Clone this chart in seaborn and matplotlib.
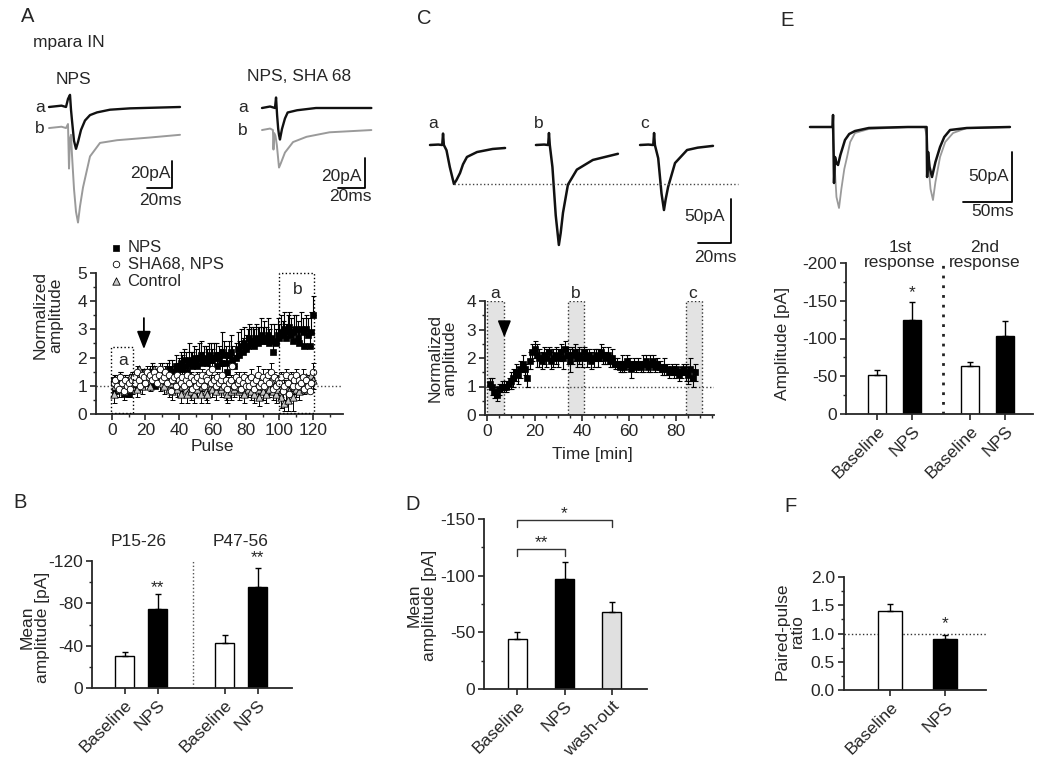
import numpy as np
import matplotlib
matplotlib.use("Agg")
import matplotlib.pyplot as plt
import seaborn as sns
from matplotlib.patches import Rectangle
from matplotlib.ticker import MultipleLocator, FormatStrFormatter

sns.set_style("ticks")
plt.rcParams["font.family"] = ["Liberation Sans", "DejaVu Sans"]
plt.rcParams["font.size"] = 12.5
plt.rcParams["axes.unicode_minus"] = False

FS = 12.5

# ---------------- dati ----------------

# A - tracce (ms, pA)
a_nps_t_a = [0, 10, 13.6, 15.2, 16.8, 17.6, 18.4, 20, 21.6, 23.2, 25.6, 28.8, 32.8, 38.4, 48.8, 64.8, 104.8]
a_nps_v_a = [0, 1, 0, 6, 9, -2, -10, -25, -31, -26, -17, -10, -6, -4, -2, -1, 0]
a_nps_t_b = [0, 10, 13.6, 15.2, 16, 16.8, 17.6, 18.4, 20, 21.6, 23.2, 24.8, 27.2, 32.8, 40.8, 54.4, 80.8, 104.8]
a_nps_v_b = [0, 1, 0, 3, -30, -8, -5, -20, -45, -62, -70, -58, -44, -21, -11, -9, -7, -5]

a_sha_t_a = [0, 6, 9.6, 10.4, 11.2, 12, 12.6, 13.3, 14.8, 17, 19, 26, 40, 81]
a_sha_v_a = [0, 1, 0, 7, -5, -14, -18, -21, -14, -7, -3, -1.5, 0, 0]
a_sha_t_b = [0, 6, 8.1, 8.5, 9, 10, 11, 12.6, 14, 17, 23, 33, 50, 81]
a_sha_v_b = [0, 1, 0, -13, -2, -4, -10, -25, -22, -15, -8, -4.5, -1.5, 0]

# A - ampiezza normalizzata per impulso (1..120)
pulse = np.arange(1, 121)
nps_amp = [1.2, 0.8, 1.1, 1.0, 1.2, 0.9, 0.7, 1.1, 1.0, 0.7, 1.1, 1.3, 1.0, 1.2, 0.9, 1.1, 1.2, 1.0, 1.3, 1.4,
           1.2, 1.1, 1.3, 1.5, 1.2, 1.0, 1.3, 1.4, 1.2, 1.5, 1.3, 1.2, 1.4, 1.6, 1.3, 1.5, 1.4, 1.7, 1.5, 1.6,
           1.8, 1.6, 1.9, 1.7, 1.5, 1.9, 1.8, 1.7, 2.0, 1.8, 1.7, 2.0, 2.1, 1.8, 1.9, 2.0, 1.8, 2.1, 2.0, 1.9,
           2.0, 2.1, 1.7, 2.0, 1.8, 2.2, 2.1, 1.8, 1.5, 2.1, 2.2, 1.9, 1.7, 2.0, 2.3, 2.1, 2.4, 2.2, 2.5, 2.3,
           2.4, 2.7, 2.5, 2.6, 2.4, 2.7, 2.5, 2.6, 2.8, 2.6, 2.7, 2.6, 2.8, 2.5, 2.7, 2.2, 2.6, 2.5, 2.8, 2.7,
           2.9, 2.8, 3.0, 2.7, 2.9, 3.1, 2.8, 2.6, 2.9, 3.0, 2.7, 2.5, 3.0, 2.9, 2.4, 3.0, 2.8, 2.4, 2.9, 3.5]
nps_err = [0.2, 0.3, 0.2, 0.2, 0.3, 0.2, 0.2, 0.3, 0.2, 0.2, 0.3, 0.2, 0.3, 0.2, 0.3, 0.2, 0.3, 0.2, 0.3, 0.2,
           0.3, 0.2, 0.3, 0.3, 0.2, 0.3, 0.3, 0.2, 0.3, 0.3, 0.3, 0.3, 0.4, 0.3, 0.3, 0.4, 0.3, 0.4, 0.3, 0.4,
           0.4, 0.5, 0.4, 0.5, 0.4, 0.6, 0.4, 0.5, 0.4, 0.5, 0.4, 0.5, 0.5, 0.4, 0.5, 0.4, 0.5, 0.4, 0.5, 0.4,
           0.5, 0.4, 0.5, 0.4, 0.5, 0.7, 0.5, 0.6, 0.5, 0.5, 0.6, 0.5, 0.4, 0.5, 0.6, 0.5, 0.6, 0.5, 0.6, 0.5,
           0.6, 0.5, 0.6, 0.5, 0.6, 0.5, 0.6, 0.5, 0.6, 0.5, 0.6, 0.5, 0.6, 0.5, 0.5, 0.3, 0.6, 0.5, 0.6, 0.5,
           0.6, 0.5, 0.6, 0.5, 0.6, 0.5, 0.6, 0.5, 0.6, 0.5, 0.6, 0.5, 0.6, 0.5, 0.6, 0.5, 0.6, 0.5, 0.7, 0.7]
sha_amp = [1.1, 1.2, 1.0, 0.9, 1.3, 1.1, 0.8, 1.2, 1.0, 1.1, 0.9, 1.2, 1.3, 1.1, 1.5, 1.2, 1.0, 1.4, 1.3, 1.1,
           1.5, 1.3, 1.4, 1.2, 1.5, 1.3, 1.1, 1.4, 1.6, 1.2, 1.3, 1.5, 1.1, 1.4, 0.8, 1.2, 1.3, 1.0, 1.4, 1.2,
           1.1, 1.3, 1.0, 1.2, 1.4, 1.1, 1.3, 0.9, 1.2, 1.0, 1.3, 1.1, 1.2, 1.4, 1.0, 1.3, 1.2, 1.5, 1.1, 1.6,
           1.2, 1.0, 1.3, 1.1, 1.2, 1.4, 1.0, 1.2, 0.9, 1.1, 1.2, 1.7, 1.0, 1.3, 1.1, 1.2, 0.9, 1.1, 1.3, 1.0,
           1.2, 1.0, 1.3, 1.1, 0.9, 1.2, 1.4, 1.0, 1.1, 1.3, 1.0, 1.2, 1.4, 1.1, 1.5, 0.9, 1.3, 1.0, 1.2, 1.1,
           1.3, 0.8, 1.0, 1.4, 1.1, 0.7, 1.3, 1.0, 1.2, 1.4, 1.0, 1.2, 1.1, 1.3, 0.9, 1.2, 1.0, 0.8, 1.1, 1.5]
sha_err = [0.2, 0.2, 0.3, 0.2, 0.2, 0.3, 0.2, 0.2, 0.3, 0.2, 0.2, 0.3, 0.2, 0.2, 0.2, 0.3, 0.2, 0.2, 0.2, 0.3,
           0.2, 0.2, 0.3, 0.2, 0.2, 0.2, 0.3, 0.2, 0.2, 0.2, 0.3, 0.2, 0.2, 0.3, 0.2, 0.2, 0.2, 0.3, 0.2, 0.2,
           0.3, 0.2, 0.2, 0.2, 0.3, 0.2, 0.2, 0.3, 0.2, 0.2, 0.2, 0.3, 0.2, 0.2, 0.3, 0.2, 0.2, 0.2, 0.3, 0.2,
           0.2, 0.3, 0.2, 0.2, 0.2, 0.3, 0.2, 0.2, 0.3, 0.2, 0.2, 0.2, 0.3, 0.2, 0.2, 0.3, 0.2, 0.2, 0.2, 0.3,
           0.2, 0.2, 0.3, 0.2, 0.2, 0.2, 0.3, 0.2, 0.2, 0.3, 0.2, 0.2, 0.2, 0.3, 0.3, 0.2, 0.2, 0.3, 0.2, 0.3,
           0.2, 0.3, 0.2, 0.2, 0.3, 0.3, 0.2, 0.3, 0.2, 0.2, 0.3, 0.2, 0.2, 0.3, 0.2, 0.2, 0.3, 0.2, 0.2, 0.3]
ctrl_amp = [0.7, 1.0, 1.2, 0.9, 1.1, 1.0, 0.8, 1.2, 1.1, 0.9, 1.3, 1.0, 1.1, 1.4, 0.9, 1.6, 1.2, 1.0, 1.5, 1.3,
            1.2, 1.5, 1.0, 1.4, 1.6, 1.3, 1.2, 1.5, 1.1, 1.4, 1.0, 1.3, 1.2, 0.9, 1.1, 0.8, 1.2, 1.0, 0.9, 1.1,
            0.7, 1.0, 1.2, 0.9, 0.7, 1.1, 0.8, 1.0, 0.7, 1.2, 0.9, 1.1, 0.7, 1.0, 1.2, 0.8, 0.7, 1.1, 1.0, 0.9,
            1.1, 0.8, 1.0, 1.2, 0.9, 1.0, 1.3, 0.8, 0.7, 1.0, 0.8, 1.1, 0.9, 1.0, 1.2, 0.8, 0.9, 1.1, 0.7, 1.0,
            0.9, 1.2, 0.8, 1.0, 0.7, 1.1, 0.9, 0.6, 1.0, 0.8, 1.1, 0.7, 1.0, 0.9, 1.2, 0.8, 1.0, 0.7, 0.9, 1.1,
            0.6, 0.9, 0.4, 1.0, 0.5, 0.8, 1.1, 0.6, 1.0, 0.9, 1.2, 0.8, 1.0, 1.1, 0.9, 1.3, 1.0, 1.2, 1.4, 1.2]
ctrl_err = [0.3, 0.2, 0.2, 0.3, 0.2, 0.2, 0.3, 0.2, 0.2, 0.3, 0.2, 0.3, 0.2, 0.2, 0.3, 0.2, 0.2, 0.3, 0.2, 0.2,
            0.2, 0.3, 0.2, 0.2, 0.2, 0.3, 0.2, 0.2, 0.3, 0.2, 0.3, 0.2, 0.2, 0.3, 0.2, 0.3, 0.2, 0.2, 0.3, 0.2,
            0.3, 0.2, 0.2, 0.3, 0.3, 0.2, 0.3, 0.2, 0.3, 0.2, 0.3, 0.2, 0.3, 0.2, 0.2, 0.3, 0.3, 0.2, 0.2, 0.3,
            0.2, 0.3, 0.2, 0.2, 0.3, 0.2, 0.2, 0.3, 0.3, 0.2, 0.3, 0.2, 0.3, 0.2, 0.2, 0.3, 0.3, 0.2, 0.3, 0.2,
            0.3, 0.2, 0.3, 0.2, 0.3, 0.2, 0.3, 0.3, 0.2, 0.3, 0.2, 0.3, 0.2, 0.3, 0.2, 0.3, 0.2, 0.3, 0.3, 0.2,
            0.4, 0.4, 0.3, 0.5, 0.4, 0.4, 0.3, 0.5, 0.3, 0.3, 0.2, 0.3, 0.2, 0.3, 0.2, 0.3, 0.2, 0.3, 0.2, 0.3]

# B
b_labels = ["Baseline", "NPS", "Baseline", "NPS"]
b_pos = [0, 1, 3.05, 4.05]
b_vals = [-30.4, -74.3, -42.6, -95.6]
b_err = [3.4, 14.1, 7.4, 18.1]
b_colors = ["white", "black", "white", "black"]

# C - tracce a, b, c
c_t_a = [0, 5, 7.4, 7.9, 8.4, 10, 12, 14.5, 16, 18.2, 20, 22.4, 28.5, 38, 45.5]
c_v_a = [0, 0.5, 0, 13, 0, -6, -25, -44.3, -40, -31.8, -22, -13.6, -8, -4.5, -3.4]
c_t_b = [0, 5, 7.4, 7.9, 8.4, 10, 12, 13.9, 15, 16.4, 19.4, 24.8, 34.5, 49.7]
c_v_b = [0, 0.5, 0, 13.6, 0, -25, -80, -113.6, -100, -77, -45, -28, -17, -10]
c_t_c = [0, 5, 8, 8.5, 9, 11, 13, 14.5, 15.5, 17, 21.2, 28.5, 35, 44.2]
c_v_c = [0, 0.5, 0, 13.6, 0, -15, -55, -73.9, -62, -47.7, -20.5, -5.7, -3, -1]

# C - andamento nel tempo (min 1..88)
c_time = np.arange(1, 89)
c_amp = [1.1, 1.0, 0.8, 0.7, 0.9, 1.0, 1.0, 1.0, 1.1, 1.2, 1.3, 1.5, 1.4, 1.6, 1.8, 1.6, 1.3, 1.9,
         2.2, 2.3, 2.1, 2.0, 1.9, 2.1, 2.0, 2.2, 1.9, 2.0, 2.1, 2.0, 2.2, 2.0, 2.3, 2.1, 1.9, 2.1,
         2.2, 2.0, 2.1, 2.0, 2.2, 2.0, 2.1, 1.9, 2.0, 2.1, 2.0, 2.2, 2.1, 2.0, 2.1, 1.9, 2.0, 1.8,
         1.8, 1.7, 1.8, 1.7, 1.9, 1.8, 1.6, 1.8, 1.7, 1.8, 1.7, 1.8, 1.9, 1.7, 1.8, 1.9, 1.7, 1.8,
         1.7, 1.6, 1.7, 1.6, 1.5, 1.6, 1.5, 1.6, 1.4, 1.5, 1.6, 1.5, 1.4, 1.6, 1.3, 1.5]
c_err = [0.2, 0.3, 0.2, 0.2, 0.2, 0.2, 0.2, 0.2, 0.2, 0.3, 0.3, 0.3, 0.3, 0.3, 0.3, 0.2, 0.3, 0.3,
         0.3, 0.3, 0.4, 0.3, 0.3, 0.3, 0.3, 0.2, 0.3, 0.3, 0.3, 0.3, 0.3, 0.4, 0.3, 0.3, 0.4, 0.3,
         0.3, 0.3, 0.3, 0.3, 0.2, 0.3, 0.2, 0.3, 0.3, 0.2, 0.3, 0.3, 0.3, 0.2, 0.3, 0.2, 0.3, 0.2,
         0.2, 0.2, 0.3, 0.2, 0.2, 0.2, 0.3, 0.2, 0.2, 0.2, 0.2, 0.3, 0.2, 0.2, 0.3, 0.2, 0.2, 0.2,
         0.2, 0.2, 0.3, 0.2, 0.2, 0.2, 0.2, 0.2, 0.2, 0.2, 0.2, 0.3, 0.3, 0.4, 0.3, 0.3]

# D
d_labels = ["Baseline", "NPS", "wash-out"]
d_vals = [-43.8, -97.0, -67.6]
d_err = [6.2, 14.8, 8.9]
d_colors = ["white", "black", "#e0e0e0"]

# E - tracce (nero e grigio)
e_t_k = [0, 20, 23, 23.5, 24.5, 25.5, 27, 28.6, 31, 35.7, 40, 45.9, 60, 100, 117, 119, 119.5, 120.5, 122,
         124.5, 128, 132.7, 137, 142.9, 160, 204]
e_v_k = [0, 0, 0, 12, -56, -30, -36, -38, -28, -13, -7, -4, -1, 0, 0, 0, -50, -25, -40, -50, -35, -20,
         -10, -3, -1, 0]
e_t_g = [0, 20, 23, 24, 25.5, 27, 29.6, 32, 35, 37.8, 41, 45.9, 60, 100, 117, 119.5, 121, 123, 125.5, 128,
         132.7, 138, 146, 160, 204]
e_v_g = [0, 0, 0, -20, -45, -70, -81, -62, -42, -30, -15, -6, -2, 0, 0, -10, -40, -62, -73, -55, -30,
         -15, -6, -1, 0]

# E - barre
e_labels = ["Baseline", "NPS", "Baseline", "NPS"]
e_pos = [0, 1, 2.66, 3.66]
e_vals = [-52, -124, -63, -103]
e_err = [6.7, 25, 6, 20.6]
e_colors = ["white", "black", "white", "black"]

# F
f_labels = ["Baseline", "NPS"]
f_vals = [1.39, 0.90]
f_err = [0.13, 0.076]
f_colors = ["white", "black"]

# ---------------- figura ----------------
W, H = 1050, 767
fig = plt.figure(figsize=(10.5, 7.67), dpi=100)
K = "#111111"
G = "#9a9a9a"


def box(l, t, r, b):
    return fig.add_axes([l / W, 1 - b / H, (r - l) / W, (b - t) / H])


def trace_axes(l, t, r, b, x0, y0, px_ms, px_pa):
    ax = box(l, t, r, b)
    ax.set_xlim((l - x0) / px_ms, (r - x0) / px_ms)
    ax.set_ylim(-(b - y0) / px_pa, (y0 - t) / px_pa)
    ax.set_axis_off()
    return ax


def trace(ax, t, v, color, lw=1.5, dt=0, dy=0):
    sns.lineplot(x=np.asarray(t) + dt, y=np.asarray(v) + dy, ax=ax, color=color, lw=lw,
                 errorbar=None, legend=False)


def scalebar(ax, x1, y0, dx, dy, ylab, xlab, ylab_x, xlab_x, ylab_y, xlab_y):
    ax.plot([x1 - dx, x1, x1], [y0, y0, y0 + dy], color="k", lw=1.3)
    ax.text(ylab_x, ylab_y, ylab, ha="right", va="center", fontsize=FS)
    ax.text(xlab_x, xlab_y, xlab, ha="center", va="center", fontsize=FS)


def style(ax):
    sns.despine(ax=ax)
    for s in ["left", "bottom"]:
        ax.spines[s].set_linewidth(1.3)
    ax.tick_params(direction="out", length=4.5, width=1.2, labelsize=FS, pad=2)
    ax.tick_params(which="minor", length=2.5, width=1)


def bars(ax, pos, vals, err, colors, width, labels):
    sns.barplot(x=pos, y=vals, native_scale=True, width=width, color="white",
                edgecolor="black", linewidth=1, errorbar=None, ax=ax)
    for p, c in zip(ax.patches, colors):
        p.set_facecolor(c)
    up = [0] * len(err)
    if vals[0] < 0:
        yerr = [err, up]
    else:
        yerr = [up, err]
    ax.errorbar(pos, vals, yerr=yerr, fmt="none", ecolor="black", elinewidth=1, capsize=2.5,
                capthick=1, zorder=1)
    ax.set_xticks(pos)
    ax.set_xticklabels(labels, rotation=45, ha="right", rotation_mode="anchor")
    style(ax)


# lettere dei pannelli
for lab, x, y in [("A", 28, 17), ("B", 20, 503), ("C", 424, 18), ("D", 413, 505), ("E", 787, 20), ("F", 790, 507)]:
    fig.text(x / W, 1 - y / H, lab, fontsize=14.5, ha="center", va="center")
fig.text(33 / W, 1 - 43 / H, "mpara IN", fontsize=FS, ha="left", va="center")

# ----- A: tracce -----
ax = trace_axes(25, 65, 205, 235, 49, 107, 1.25, 1.35)
trace(ax, a_nps_t_b, a_nps_v_b, G, lw=1.4, dy=-15.6)
trace(ax, a_nps_t_a, a_nps_v_a, K, lw=1.7)
ax.text(19.2, 20, "NPS", ha="center", va="center", fontsize=FS)
ax.text(-7.2, 0, "a", ha="center", va="center", fontsize=FS)
ax.text(-7.2, -15.6, "b", ha="center", va="center", fontsize=FS)
scalebar(ax, 98.4, -60, 20, 20, "20pA", "20ms", 97, 88.8, -48.9, -68.9)

ax = trace_axes(235, 65, 385, 200, 262, 108, 1.35, 1.5)
trace(ax, a_sha_t_b, a_sha_v_b, G, lw=1.4, dy=-14.7)
trace(ax, a_sha_t_a, a_sha_v_a, K, lw=1.7)
ax.text(27.4, 20.7, "NPS, SHA 68", ha="center", va="center", fontsize=FS)
ax.text(-14, 0, "a", ha="center", va="center", fontsize=FS)
ax.text(-14, -14.7, "b", ha="center", va="center", fontsize=FS)
scalebar(ax, 76.3, -53.3, 20, 20, "20pA", "20ms", 74.1, 65.2, -46, -59.3)

# ----- A: grafico per impulso -----
ax = box(96, 273, 343, 414)
ax.errorbar(pulse, nps_amp, yerr=[[0] * 120, nps_err], fmt="none", ecolor="k", elinewidth=0.8,
            capsize=1.8, capthick=0.8, zorder=1)
ax.errorbar(pulse, sha_amp, yerr=[[0] * 120, sha_err], fmt="none", ecolor="k", elinewidth=0.7,
            capsize=1.8, capthick=0.7, zorder=1)
ax.errorbar(pulse, ctrl_amp, yerr=[ctrl_err, [0] * 120], fmt="none", ecolor="k", elinewidth=0.7,
            capsize=1.8, capthick=0.7, zorder=1)
sns.scatterplot(x=pulse, y=nps_amp, marker="s", s=18, color="black", edgecolor="black",
                linewidth=0.5, label="NPS", ax=ax, zorder=3)
sns.scatterplot(x=pulse, y=ctrl_amp, marker="^", s=28, color="#c8c8c8", edgecolor="black",
                linewidth=0.6, label="Control", ax=ax, zorder=3)
sns.scatterplot(x=pulse, y=sha_amp, marker="o", s=22, color="white", edgecolor="black",
                linewidth=0.6, label="SHA68, NPS", ax=ax, zorder=4)
h, l = ax.get_legend_handles_labels()
order = [l.index("NPS"), l.index("SHA68, NPS"), l.index("Control")]
ax.legend([h[i] for i in order], [l[i] for i in order], loc="upper left",
          bbox_to_anchor=(0.02, 1.28), frameon=False, handletextpad=0.2, labelspacing=0.1,
          borderaxespad=0, fontsize=12, handlelength=1.0)
ax.axhline(1, color="#444444", ls=":", lw=1, zorder=0)
ax.add_patch(Rectangle((-0.6, 0.03), 13.1, 2.34, fill=False, ls=":", lw=1, ec="k", zorder=5))
ax.add_patch(Rectangle((99.7, 0.03), 20.9, 4.97, fill=False, ls=":", lw=1, ec="k", zorder=5,
                       clip_on=False))
ax.text(6.6, 1.9, "a", ha="center", va="center", fontsize=FS)
ax.text(111, 4.4, "b", ha="center", va="center", fontsize=FS)
ax.annotate("", xy=(19.1, 2.2), xytext=(19.1, 3.5),
            arrowprops=dict(arrowstyle="-|>,head_width=0.35,head_length=0.9", color="k",
                            lw=1.3, mutation_scale=12))
ax.set_xlim(-9.5, 138)
ax.set_ylim(0, 5)
ax.set_xticks([0, 20, 40, 60, 80, 100, 120])
ax.set_yticks([0, 1, 2, 3, 4, 5])
ax.xaxis.set_minor_locator(MultipleLocator(10))
ax.yaxis.set_minor_locator(MultipleLocator(0.5))
ax.set_xlabel("Pulse", fontsize=FS)
ax.set_ylabel("Normalized\namplitude", fontsize=FS, linespacing=1.0)
ax.xaxis.set_label_coords(0.47, -0.175)
ax.yaxis.set_label_coords(-0.134, 0.7)
style(ax)

# ----- B -----
ax = box(92, 561, 292, 688)
bars(ax, b_pos, b_vals, b_err, b_colors, 0.58, b_labels)
ax.set_xlim(-1.0, 5.1)
ax.set_ylim(0, -120)
ax.set_yticks([0, -40, -80, -120])
ax.yaxis.set_minor_locator(MultipleLocator(20))
ax.axvline(2.09, color="#555555", ls=":", lw=1)
ax.text(b_pos[1], -95, "**", ha="center", va="center", fontsize=FS)
ax.text(b_pos[3], -122.8, "**", ha="center", va="center", fontsize=FS)
ax.text(0.43, -138, "P15-26", ha="center", va="center", fontsize=FS)
ax.text(3.54, -138, "P47-56", ha="center", va="center", fontsize=FS)
ax.set_ylabel("Mean\namplitude [pA]", fontsize=FS, linespacing=1.0)
ax.yaxis.set_label_coords(-0.21, 0.48)

# ----- C: tracce -----
ax = trace_axes(420, 100, 745, 270, 430, 145, 1.65, 0.88)
trace(ax, c_t_a, c_v_a, K, lw=1.8)
trace(ax, c_t_b, c_v_b, K, lw=1.8, dt=64.2)
trace(ax, c_t_c, c_v_c, K, lw=1.8, dt=127.3)
ax.plot([14.5, 186.7], [-44.3, -44.3], color="#444444", ls=":", lw=1)
for lab, x in [("a", 1.8), ("b", 66), ("c", 130.3)]:
    ax.text(x, 25, lab, ha="center", va="center", fontsize=FS)
scalebar(ax, 182.4, -111.4, 20, 50, "50pA", "20ms", 178.8, 172.7, -81.8, -128.4)

# ----- C: andamento nel tempo -----
ax = box(485, 301, 714, 415)
for x0, x1 in [(0, 7), (34, 41), (84, 91)]:
    ax.add_patch(Rectangle((x0, 0), x1 - x0, 4, fc="#e3e3e3", ec="#333333", ls=":", lw=1, zorder=0))
ax.axhline(1, color="#444444", ls=":", lw=1, zorder=0.5)
ax.errorbar(c_time, c_amp, yerr=c_err, fmt="none", ecolor="k", elinewidth=0.8, capsize=1.8,
            capthick=0.8, zorder=1)
sns.scatterplot(x=c_time, y=c_amp, marker="s", s=18, color="black", edgecolor="black",
                linewidth=0.5, ax=ax, zorder=3)
for lab, x in [("a", 3.4), ("b", 37.6), ("c", 87)]:
    ax.text(x, 4.28, lab, ha="center", va="center", fontsize=FS)
ax.annotate("", xy=(7.2, 2.63), xytext=(7.2, 3.26),
            arrowprops=dict(arrowstyle="-|>,head_width=0.4,head_length=1.0", color="k",
                            lw=1.2, mutation_scale=10))
ax.set_xlim(-1, 96)
ax.set_ylim(0, 4)
ax.set_xticks([0, 20, 40, 60, 80])
ax.set_yticks([0, 1, 2, 3, 4])
ax.xaxis.set_minor_locator(MultipleLocator(5))
ax.yaxis.set_minor_locator(MultipleLocator(0.5))
ax.set_xlabel("Time [min]", fontsize=FS)
ax.set_ylabel("Normalized\namplitude", fontsize=FS, linespacing=1.0)
ax.xaxis.set_label_coords(0.47, -0.28)
ax.yaxis.set_label_coords(-0.12, 0.5)
style(ax)

# ----- D -----
ax = box(484, 519, 647, 689)
bars(ax, [0, 1, 2], d_vals, d_err, d_colors, 0.41, d_labels)
ax.set_xlim(-0.71, 2.75)
ax.set_ylim(0, -150)
ax.set_yticks([0, -50, -100, -150])
ax.yaxis.set_minor_locator(MultipleLocator(25))
ax.plot([0, 0, 1, 1], [-117, -123.5, -123.5, -117], color="#333333", lw=1)
ax.plot([0, 0, 2, 2], [-143, -149, -149, -143], color="#333333", lw=1, clip_on=False)
ax.text(0.5, -129, "**", ha="center", va="center", fontsize=FS)
ax.text(1.0, -155, "*", ha="center", va="center", fontsize=FS)
ax.set_ylabel("Mean\namplitude [pA]", fontsize=FS, linespacing=1.0)
ax.yaxis.set_label_coords(-0.29, 0.49)

# ----- E: tracce -----
ax = trace_axes(800, 95, 1040, 225, 810, 127, 0.98, 1.0)
trace(ax, e_t_g, e_v_g, G, lw=1.3)
trace(ax, e_t_k, e_v_k, K, lw=1.8)
scalebar(ax, 206, -75, 50, 50, "50pA", "50ms", 203, 186.7, -49, -85)

# ----- E: barre -----
ax = box(846, 263, 1033, 414)
bars(ax, e_pos, e_vals, e_err, e_colors, 0.53, e_labels)
ax.set_xlim(-0.89, 4.46)
ax.set_ylim(0, -200)
ax.set_yticks([0, -50, -100, -150, -200])
ax.yaxis.set_minor_locator(MultipleLocator(25))
ax.plot([1.89, 1.89], [0, -200], color="#222222", ls=(0, (1, 2.5)), lw=2)
ax.text(e_pos[1], -161, "*", ha="center", va="center", fontsize=FS)
ax.text(0.66, -211, "1st\nresponse", ha="center", va="center", fontsize=FS, linespacing=1.0)
ax.text(3.09, -211, "2nd\nresponse", ha="center", va="center", fontsize=FS, linespacing=1.0)
ax.set_ylabel("Amplitude [pA]", fontsize=FS)
ax.yaxis.set_label_coords(-0.30, 0.47)

# ----- F -----
ax = box(844, 577, 986, 690)
bars(ax, [0, 1], f_vals, f_err, f_colors, 0.43, f_labels)
ax.set_xlim(-0.84, 1.75)
ax.set_ylim(0, 2)
ax.set_yticks([0, 0.5, 1.0, 1.5, 2.0])
ax.yaxis.set_major_formatter(FormatStrFormatter("%.1f"))
ax.yaxis.set_minor_locator(MultipleLocator(0.25))
ax.axhline(1, color="#333333", ls=":", lw=1, zorder=0.5)
ax.text(1, 1.18, "*", ha="center", va="center", fontsize=FS)
ax.set_ylabel("Paired-pulse\nratio", fontsize=FS, linespacing=1.0)
ax.yaxis.set_label_coords(-0.275, 0.52)

fig.savefig("out.png", dpi=100)
